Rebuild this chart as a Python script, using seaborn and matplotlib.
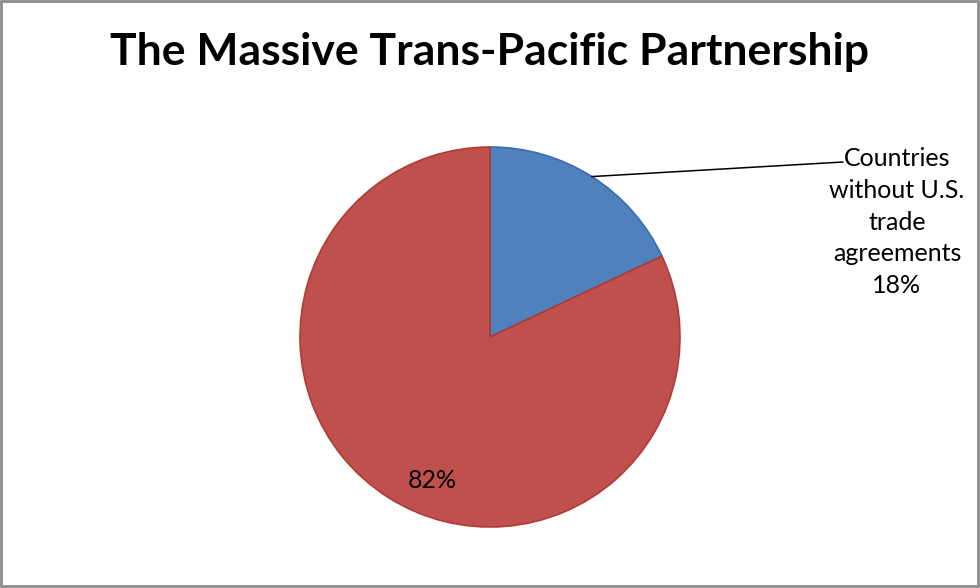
import numpy as np
import seaborn as sns
import matplotlib
matplotlib.use('Agg')
import matplotlib.pyplot as plt
from matplotlib.patches import Rectangle

'''
Pie chart: share of TPP countries with / without U.S. trade agreements.
'''

# data
labels = ['Countries\nwithout U.S.\ntrade\nagreements', 'Other']
values = [18, 82]
colors = ['#4F81BD', '#C0504D']
edge_colors = ['#3A6CB0', '#B03A36']
title = 'The Massive Trans-Pacific Partnership'

sns.set_style('white')
plt.rcParams['font.family'] = ['Lato', 'DejaVu Sans']

W, H = 980, 588
fig = plt.figure(figsize=(W / 100, H / 100), dpi=100)
fig.patch.set_facecolor('white')

# pie axes: centre (490, 337) px, radius 190 px
cx, cy, r = 490, 337, 190
ax = fig.add_axes([(cx - r) / W, 1 - (cy + r) / H, 2 * r / W, 2 * r / H])
wedges, _ = ax.pie(values, colors=colors, startangle=90, counterclock=False,
                   radius=1, wedgeprops=dict(linewidth=1.2))
for w, ec in zip(wedges, edge_colors):
    w.set_edgecolor(ec)
ax.set_xlim(-1, 1)
ax.set_ylim(-1, 1)
ax.set_aspect('equal')
ax.axis('off')

# leader line from middle of the small slice to the label
mid = np.deg2rad(90 - values[0] / sum(values) * 360 / 2)
ax.annotate('', xy=(np.cos(mid), np.sin(mid)), xycoords='data',
            xytext=(843 / W, 1 - 162 / H), textcoords='figure fraction',
            arrowprops=dict(arrowstyle='-', color='black', lw=1.1,
                            shrinkA=0, shrinkB=0))
fig.text(897 / W, 1 - 222 / H, '%s\n%d%%' % (labels[0], values[0]),
         ha='center', va='center', fontsize=18, linespacing=1.45,
         color='black')

# label inside the big slice
ax.text((432 - cx) / r, -(480 - cy) / r, '%d%%' % values[1],
        ha='center', va='center', fontsize=18, color='black')

fig.text(489 / W, 1 - 52 / H, title, ha='center', va='center',
         fontsize=32, fontweight='bold', color='black')

# grey frame round the chart area
fig.patches.append(Rectangle((1 / W, 2 / H), 1 - 3 / W, 1 - 3 / H,
                             transform=fig.transFigure, fill=False,
                             edgecolor='#8C8C8C', linewidth=2))

fig.savefig('out.png', dpi=100)
